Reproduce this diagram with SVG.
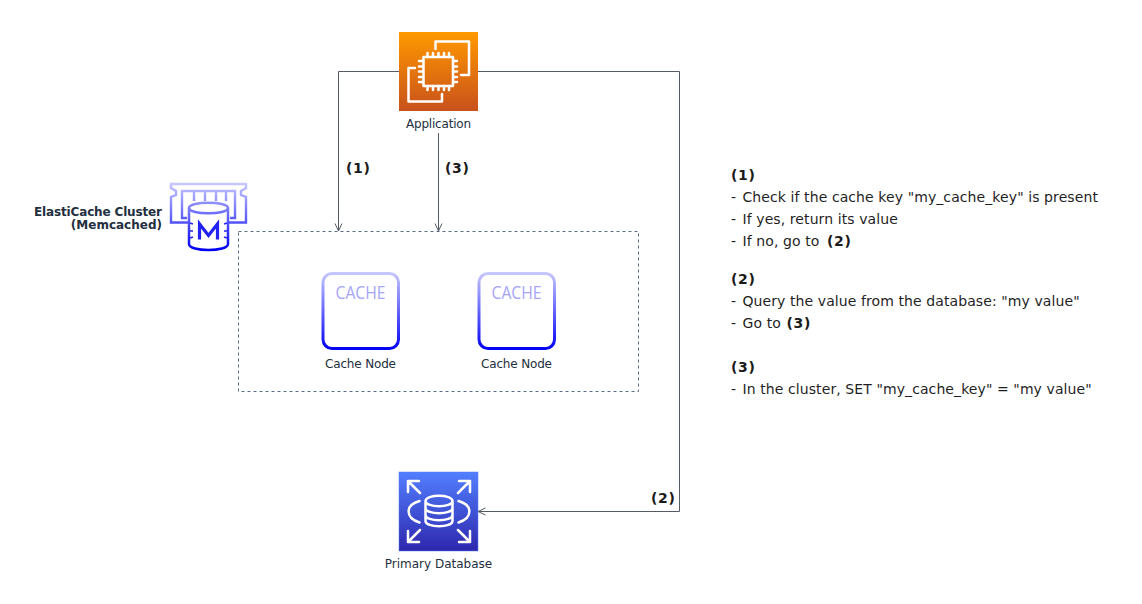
<svg xmlns="http://www.w3.org/2000/svg" width="1142" height="604" viewBox="0 0 1142 604">
<style>
text{font-family:"DejaVu Sans",Verdana,sans-serif;fill:#232f3e}
.s{font-size:12px}
.b{font-weight:bold}
.t{font-size:14px;fill:#1f1f1f;letter-spacing:.09px}
.n{font-size:14px;font-weight:bold;fill:#1a1a1a;letter-spacing:.7px}
.c{stroke:#545b64;stroke-width:1;fill:none}
.w{fill:none;stroke:#fff;stroke-width:2.5;stroke-linejoin:round;stroke-linecap:round}
.m{fill:none;stroke:url(#bl);stroke-width:3}
.k{font-family:"Open Sans",sans-serif;font-size:19px;fill:#a5a5fa}
.e{fill:none;stroke:url(#ec);stroke-width:2.4}
</style>
<defs>
<linearGradient id="or" x1="0" y1="1" x2="0" y2="0"><stop offset="0" stop-color="#c8511b"/><stop offset="1" stop-color="#ff9900"/></linearGradient>
<linearGradient id="db" x1="0" y1="1" x2="0" y2="0"><stop offset="0" stop-color="#2e27ad"/><stop offset="1" stop-color="#527fff"/></linearGradient>
<linearGradient id="bl" gradientUnits="userSpaceOnUse" x1="0" y1="350" x2="0" y2="272"><stop offset="0" stop-color="#0000f5"/><stop offset="1" stop-color="#c9c9ff"/></linearGradient>
<linearGradient id="ec" gradientUnits="userSpaceOnUse" x1="0" y1="250" x2="0" y2="183"><stop offset="0" stop-color="#0000f5"/><stop offset="1" stop-color="#c9c9ff"/></linearGradient>
<marker id="a" markerWidth="9" markerHeight="9" refX="8" refY="4" orient="auto" markerUnits="userSpaceOnUse"><path d="M0.5 0.5L8 4L0.5 7.5" fill="none" stroke="#545b64"/></marker>
</defs>
<g id="connectors">
<path class="c" d="M399.500 71.500H338.500V231" marker-end="url(#a)"/>
<path class="c" d="M438.500 133V231" marker-end="url(#a)"/>
<path class="c" d="M477.500 71.500H679.500V511.500H478" marker-end="url(#a)"/>
</g>
<g id="cluster-box"><rect x="238.500" y="231.500" width="400" height="160" fill="none" stroke="#5a6c86" stroke-dasharray="3 3"/></g>
<g id="application">
<rect x="399" y="32" width="79" height="79" fill="url(#or)"/>
<path class="w" d="M435.500 49V41.500H469V75H461M415 68H408.500V101.500H442V94"/>
<rect x="423.500" y="57" width="29.500" height="29" class="w"/>
<path class="w" d="M427.500 57V53M433 57V53M438.500 57V53M444 57V53M449 57V53M427.500 86V90M433 86V90M438.500 86V90M444 86V90M449 86V90M423 61H419M423 66.500H419M423 71.500H419M423 77H419M423 82H419M453 61H457M453 66.500H457M453 71.500H457M453 77H457M453 82H457"/>
<text class="s" x="438.500" y="128" text-anchor="middle" textLength="65">Application</text>
</g>
<g id="elasticache-cluster">
<path class="e" d="M190 222.500H171V197L176 195V191L171 188V184H246V188L241 191V195L246 197V222.500H228"/>
<path class="e" d="M187 218H182V191H235V218H230M194 191V201M205 191V201M216 191V201M226 191V201"/>
<path d="M189 208C189 201 228 201 228 208V244C228 252 189 252 189 244Z" fill="#fff" stroke="url(#ec)" stroke-width="2.500"/>
<path d="M189 208C189 215 228 215 228 208" fill="none" stroke="url(#ec)" stroke-width="2.500"/>
<path d="M199.500 239.500V224L208.500 235.500L217.500 224V239.500" fill="none" stroke="#2222f2" stroke-width="3.200"/>
<path d="M190 223L193 224M190 231H193M190 238L193 237M227 223L224 224M227 231H224M227 238L224 237" stroke="#2222f2" stroke-width="1.500"/>
<text class="s b" x="162" y="216" text-anchor="end" textLength="128">ElastiCache Cluster</text>
<text class="s b" x="162" y="229" text-anchor="end">(Memcached)</text>
</g>
<g id="cache-node-1">
<rect x="323" y="273.500" width="75.500" height="75" rx="9" class="m"/>
<text class="k" x="360.500" y="299" text-anchor="middle" textLength="50" lengthAdjust="spacingAndGlyphs">CACHE</text>
<text class="s" x="360.500" y="368" text-anchor="middle" textLength="71">Cache Node</text>
</g>
<g id="cache-node-2">
<rect x="479" y="273.500" width="75.500" height="75" rx="9" class="m"/>
<text class="k" x="516.500" y="299" text-anchor="middle" textLength="50" lengthAdjust="spacingAndGlyphs">CACHE</text>
<text class="s" x="516.500" y="368" text-anchor="middle" textLength="71">Cache Node</text>
</g>
<g id="primary-database">
<rect x="399" y="472" width="79" height="79" fill="url(#db)" stroke="#5a7cf0" stroke-width="0.500"/>
<path class="w" d="M408 481H419M408 481V492M408 481L420 493M470 481H459M470 481V492M470 481L458 493M408 542H419M408 542V531M408 542L420 530M470 542H459M470 542V531M470 542L458 530" stroke-linecap="butt"/>
<path class="w" d="M419.500 501C405 505 405 518 419.500 522.500M458.500 501C473 505 473 518 458.500 522.500"/>
<path class="w" d="M425.500 501V521C425.500 528 452.500 528 452.500 521V501C452.500 494 425.500 494 425.500 501C425.500 508 452.500 508 452.500 501M425.500 508C425.500 515 452.500 515 452.500 508M425.500 515C425.500 522 452.500 522 452.500 515"/>
<text class="s" x="438.500" y="568" text-anchor="middle">Primary Database</text>
</g>
<g id="labels">
<text class="n" x="346" y="173">(1)</text>
<text class="n" x="445" y="173">(3)</text>
<text class="n" x="651" y="503">(2)</text>
</g>
<g id="notes">
<text class="n" x="731" y="180">(1)</text>
<text class="t" x="731" y="202">-<tspan x="742.500">Check if the cache key "my_cache_key" is present</tspan></text>
<text class="t" x="731" y="224">-<tspan x="742.500">If yes, return its value</tspan></text>
<text class="t" x="731" y="246">-<tspan x="742.500">If no, go to</tspan><tspan x="827" class="n">(2)</tspan></text>
<text class="n" x="731" y="284">(2)</text>
<text class="t" x="731" y="306">-<tspan x="742.500">Query the value from the database: "my value"</tspan></text>
<text class="t" x="731" y="328">-<tspan x="742.500">Go to</tspan><tspan x="786.500" class="n">(3)</tspan></text>
<text class="n" x="731" y="372">(3)</text>
<text class="t" x="731" y="394">-<tspan x="742.500">In the cluster, SET "my_cache_key" = "my value"</tspan></text>
</g>
</svg>
